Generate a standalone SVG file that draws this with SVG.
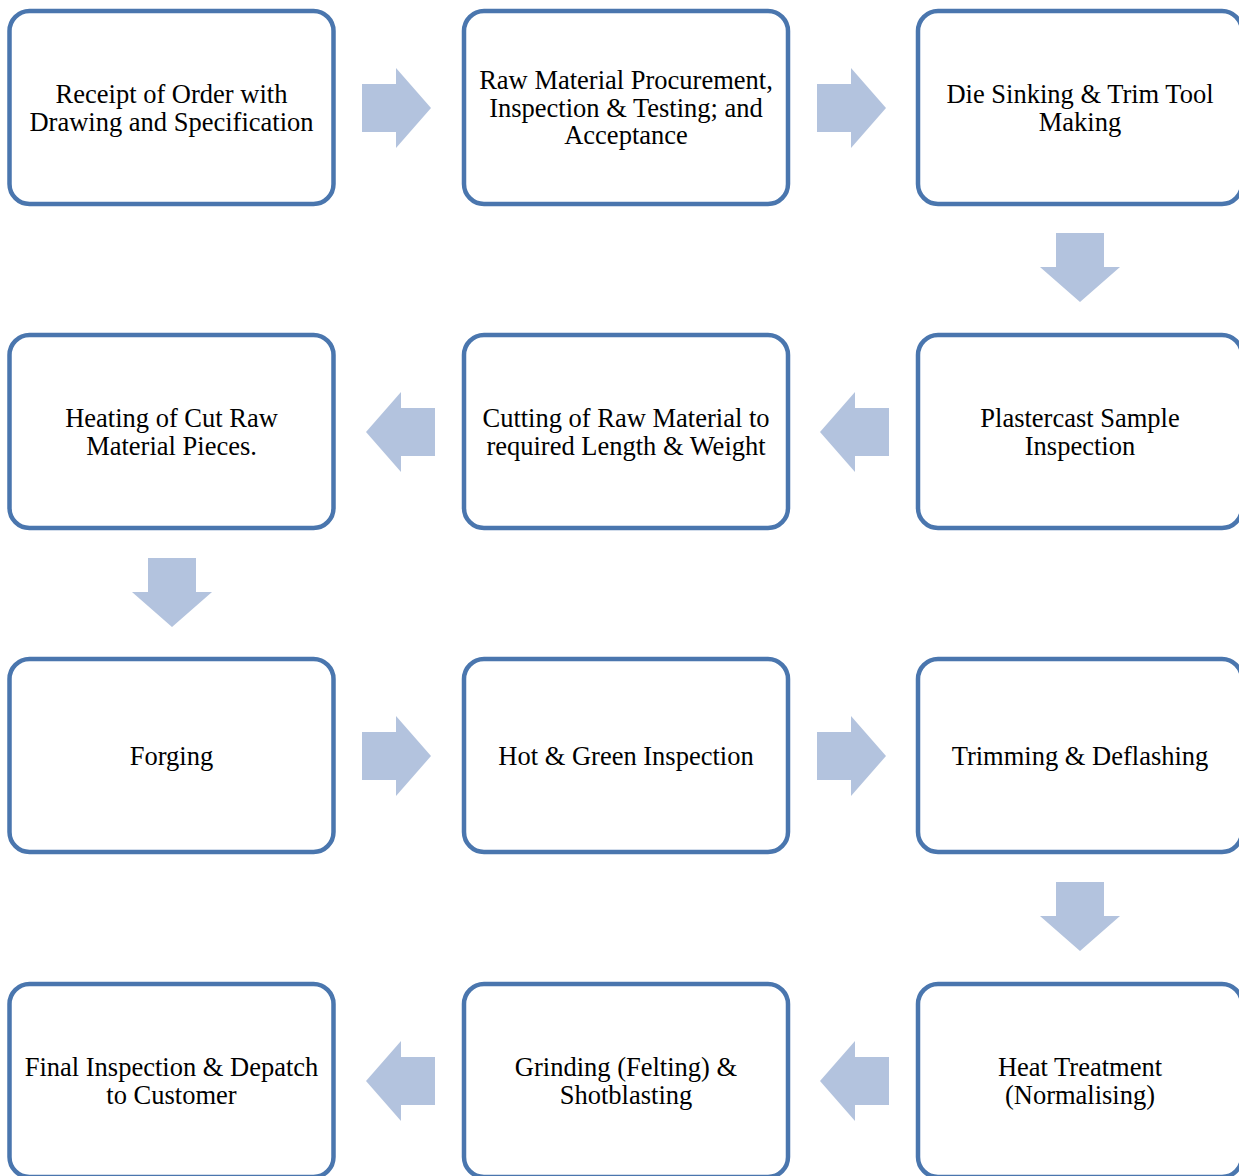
<svg xmlns="http://www.w3.org/2000/svg" width="1239" height="1176" viewBox="0 0 1239 1176">
<style>
.box{fill:#fff;stroke:#4A76AE;stroke-width:4.5}
.arr{fill:#B3C3DE}
text{font-family:"Liberation Serif","Times New Roman",serif;font-size:26.5px;fill:#000;text-anchor:middle}
</style>
<defs>
<polygon id="ar" points="0,-24 34,-24 34,-40 69,0 34,40 34,24 0,24"/>
</defs>
<rect width="1239" height="1176" fill="#fff"/>
<g id="connectors">
<use href="#ar" class="arr" transform="translate(362,108)"/>
<use href="#ar" class="arr" transform="translate(817,108)"/>
<use href="#ar" class="arr" transform="translate(1080,233) rotate(90)"/>
<use href="#ar" class="arr" transform="translate(889,432) rotate(180)"/>
<use href="#ar" class="arr" transform="translate(435,432) rotate(180)"/>
<use href="#ar" class="arr" transform="translate(172,558) rotate(90)"/>
<use href="#ar" class="arr" transform="translate(362,756)"/>
<use href="#ar" class="arr" transform="translate(817,756)"/>
<use href="#ar" class="arr" transform="translate(1080,882) rotate(90)"/>
<use href="#ar" class="arr" transform="translate(889,1081) rotate(180)"/>
<use href="#ar" class="arr" transform="translate(435,1081) rotate(180)"/>
</g>
<g id="n1"><rect class="box" x="9.5" y="11" width="324" height="193" rx="20"/><text x="171.5" y="103">Receipt of Order with</text><text x="171.5" y="131">Drawing and Specification</text></g>
<g id="n2"><rect class="box" x="464" y="11" width="324" height="193" rx="20"/><text x="626" y="89">Raw Material Procurement,</text><text x="626" y="116.5">Inspection &amp; Testing; and</text><text x="626" y="144">Acceptance</text></g>
<g id="n3"><rect class="box" x="918" y="11" width="324" height="193" rx="20"/><text x="1080" y="103">Die Sinking &amp; Trim Tool</text><text x="1080" y="131">Making</text></g>
<g id="n4"><rect class="box" x="918" y="335" width="324" height="193" rx="20"/><text x="1080" y="427">Plastercast Sample</text><text x="1080" y="455">Inspection</text></g>
<g id="n5"><rect class="box" x="464" y="335" width="324" height="193" rx="20"/><text x="626" y="427">Cutting of Raw Material to</text><text x="626" y="455">required Length &amp; Weight</text></g>
<g id="n6"><rect class="box" x="9.5" y="335" width="324" height="193" rx="20"/><text x="171.5" y="427">Heating of Cut Raw</text><text x="171.5" y="455">Material Pieces.</text></g>
<g id="n7"><rect class="box" x="9.5" y="659" width="324" height="193" rx="20"/><text x="171.5" y="765">Forging</text></g>
<g id="n8"><rect class="box" x="464" y="659" width="324" height="193" rx="20"/><text x="626" y="765">Hot &amp; Green Inspection</text></g>
<g id="n9"><rect class="box" x="918" y="659" width="324" height="193" rx="20"/><text x="1080" y="765">Trimming &amp; Deflashing</text></g>
<g id="n10"><rect class="box" x="918" y="984" width="324" height="193" rx="20"/><text x="1080" y="1076">Heat Treatment</text><text x="1080" y="1104">(Normalising)</text></g>
<g id="n11"><rect class="box" x="464" y="984" width="324" height="193" rx="20"/><text x="626" y="1076">Grinding (Felting) &amp;</text><text x="626" y="1104">Shotblasting</text></g>
<g id="n12"><rect class="box" x="9.5" y="984" width="324" height="193" rx="20"/><text x="171.5" y="1076">Final Inspection &amp; Depatch</text><text x="171.5" y="1104">to Customer</text></g>
</svg>
